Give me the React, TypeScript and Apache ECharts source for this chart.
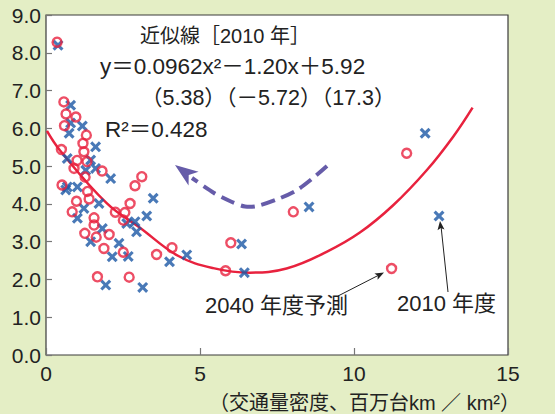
import React, { useEffect, useRef } from "react";
import * as echarts from "echarts";

// Traffic density (million vehicle-km / km²) vs. value, by region
const forecast2040: [number, number][] = [
  [0.36, 8.28], [0.58, 6.7], [0.65, 6.38], [0.97, 6.3], [0.6, 6.07],
  [1.31, 5.82], [1.2, 5.6], [0.5, 5.44], [1.23, 5.38], [1.01, 5.15],
  [1.33, 5.12], [0.91, 4.94], [1.82, 4.87], [1.27, 4.71], [3.11, 4.72],
  [2.89, 4.48], [0.52, 4.5], [1.35, 4.33], [1.4, 4.13], [0.99, 4.07],
  [2.73, 4.01], [0.85, 3.79], [2.25, 3.78], [2.56, 3.77], [1.56, 3.63],
  [2.51, 3.57], [1.56, 3.44], [1.26, 3.22], [1.63, 3.12], [2.05, 3.19],
  [1.88, 2.82], [2.51, 2.72], [3.59, 2.66], [4.09, 2.84], [1.67, 2.07],
  [2.7, 2.06], [5.83, 2.23], [6.0, 2.97], [8.03, 3.79], [11.22, 2.29],
  [11.71, 5.34],
];

const actual2010: [number, number][] = [
  [0.39, 8.2], [0.8, 6.61], [0.8, 6.14], [1.18, 6.06], [0.75, 5.87],
  [1.61, 5.51], [0.69, 5.2], [1.45, 5.16], [1.29, 4.89], [1.61, 4.94],
  [2.1, 4.67], [0.69, 4.45], [1.02, 4.45], [0.64, 4.37], [1.72, 4.01],
  [1.23, 3.88], [3.48, 4.15], [1.02, 3.62], [3.27, 3.68], [2.89, 3.53],
  [2.62, 3.48], [1.83, 3.35], [2.94, 3.26], [1.45, 3.0], [2.37, 2.96],
  [2.15, 2.6], [2.67, 2.61], [4.01, 2.47], [4.57, 2.65], [1.94, 1.85],
  [3.14, 1.79], [6.35, 2.94], [6.44, 2.18], [8.54, 3.92], [12.31, 5.87],
  [12.76, 3.68],
];

// Approximation curve as drawn
const fitCurve: [number, number][] = [
  [0.03, 5.93], [0.45, 5.42], [1.97, 4.02], [3.05, 3.37], [4.3, 2.62],
  [5.43, 2.3], [6.62, 2.18], [7.81, 2.29], [9.11, 2.73], [10.19, 3.24],
  [11.28, 3.97], [12.36, 4.89], [13.22, 5.78], [13.85, 6.55],
];

const xTicks = { min: 0, max: 15, interval: 5 };
const yTicks = { min: 0, max: 9, interval: 1 };

const equationLines = [
  "近似線［2010 年］",
  "y＝0.0962x²－1.20x＋5.92",
  "（5.38）（－5.72）（17.3）",
  "R²＝0.428",
];
const xAxisTitle = "（交通量密度、百万台km ／ km²）";
const label2040 = "2040 年度予測";
const label2010 = "2010 年度";

const FONT = "'Liberation Sans', 'Noto Sans CJK JP', sans-serif";
const RED = "#E8223E";
const BLUE = "#1B57A5";
const PURPLE = "#665CA9";
const BG = "#E4EEC5";

const CROSS =
  "path://M2,0L5,3L8,0L10,2L7,5L10,8L8,10L5,7L2,10L0,8L3,5L0,2Z";

function arrowHead(
  tip: [number, number],
  from: [number, number],
  len: number,
  half: number,
  notch: number
): number[][] {
  const dx = tip[0] - from[0];
  const dy = tip[1] - from[1];
  const l = Math.hypot(dx, dy);
  const ux = dx / l;
  const uy = dy / l;
  const px = -uy;
  const py = ux;
  const bx = tip[0] - ux * len;
  const by = tip[1] - uy * len;
  const nx = tip[0] - ux * notch;
  const ny = tip[1] - uy * notch;
  return [
    tip,
    [bx + px * half, by + py * half],
    [nx, ny],
    [bx - px * half, by - py * half],
  ];
}

function textEl(text: string, x: number, y: number, size: number, align = "left") {
  return {
    type: "text",
    x,
    y,
    z: 50,
    style: {
      text,
      fill: "#222",
      fontSize: size,
      fontFamily: FONT,
      textAlign: align,
      verticalAlign: "middle",
    },
  };
}

export default function App() {
  const ref = useRef<HTMLDivElement>(null);

  useEffect(() => {
    document.body.style.margin = "0";
    if (!ref.current) return;
    const chart = echarts.init(ref.current, null, { renderer: "svg" });

    const dashedPath = [
      [327, 166], [313, 178], [297, 190], [278, 199], [257, 206],
      [245, 206.5], [232, 202], [214, 193], [192, 178],
    ];

    chart.setOption({
      animation: false,
      backgroundColor: BG,
      grid: {
        left: 46,
        right: 47,
        top: 15,
        bottom: 59,
        show: true,
        backgroundColor: "#fff",
        borderColor: "#3a3a3a",
        borderWidth: 1.2,
      },
      xAxis: {
        type: "value",
        ...xTicks,
        axisLine: { show: false },
        splitLine: { show: false },
        axisTick: { inside: true, length: 7, lineStyle: { color: "#777", width: 1.2 } },
        axisLabel: {
          fontSize: 21,
          color: "#222",
          fontFamily: FONT,
          margin: 8,
          showMinLabel: true,
          showMaxLabel: true,
        },
      },
      yAxis: {
        type: "value",
        ...yTicks,
        axisLine: { show: false },
        splitLine: { show: false },
        axisTick: { inside: true, length: 6, lineStyle: { color: "#777", width: 1.2 } },
        axisLabel: {
          fontSize: 21,
          color: "#222",
          fontFamily: FONT,
          margin: 5,
          formatter: (v: number) => v.toFixed(1),
        },
      },
      series: [
        {
          type: "line",
          data: fitCurve,
          smooth: 0.4,
          symbol: "none",
          lineStyle: { color: RED, width: 2.5 },
          z: 2,
        },
        {
          type: "scatter",
          data: actual2010,
          symbol: CROSS,
          symbolSize: 11,
          itemStyle: { color: BLUE },
          z: 3,
        },
        {
          type: "scatter",
          data: forecast2040,
          symbol: "circle",
          symbolSize: 9,
          itemStyle: {
            color: "rgba(255,255,255,0)",
            borderColor: RED,
            borderWidth: 2.4,
          },
          z: 4,
        },
      ],
      graphic: [
        textEl(equationLines[0], 140, 36, 20),
        textEl(equationLines[1], 100, 66, 22.5),
        textEl(equationLines[2], 141, 98, 21.5),
        textEl(equationLines[3], 105, 129, 22.5),
        textEl(label2040, 205, 305, 22),
        textEl(label2010, 397, 303, 22),
        textEl(xAxisTitle, 520, 403, 20, "right"),
        {
          type: "polyline",
          z: 40,
          shape: { points: dashedPath, smooth: 0.3 },
          style: { stroke: PURPLE, lineWidth: 4, lineDash: [14, 7], fill: "none" },
        },
        {
          type: "polygon",
          z: 41,
          shape: { points: arrowHead([175, 165], [201, 184], 23, 8.5, 17) },
          style: { fill: PURPLE },
        },
        {
          type: "line",
          z: 40,
          shape: { x1: 338, y1: 296, x2: 380, y2: 274.5 },
          style: { stroke: "#222", lineWidth: 1 },
        },
        {
          type: "polygon",
          z: 41,
          shape: { points: arrowHead([384, 272.5], [338, 296], 9, 3.5, 7) },
          style: { fill: "#222" },
        },
        {
          type: "line",
          z: 40,
          shape: { x1: 448, y1: 292, x2: 441, y2: 226 },
          style: { stroke: "#222", lineWidth: 1 },
        },
        {
          type: "polygon",
          z: 41,
          shape: { points: arrowHead([440, 221], [448, 292], 9, 3.5, 7) },
          style: { fill: "#222" },
        },
      ],
    });

    return () => chart.dispose();
  }, []);

  return (
    <div
      ref={ref}
      style={{ position: "fixed", left: 0, top: 0, width: 555, height: 414, background: BG }}
    />
  );
}
